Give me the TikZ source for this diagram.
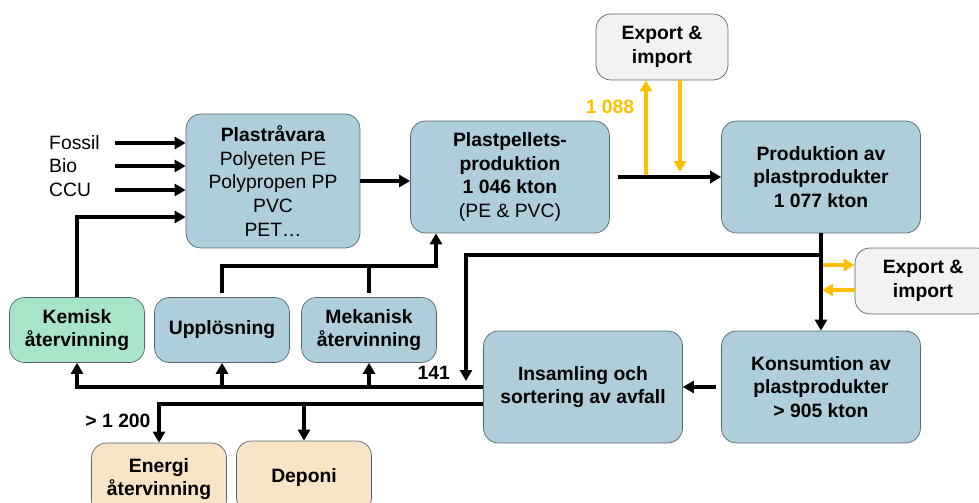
\documentclass[tikz,border=0pt]{standalone}
\usepackage{fontspec}
\setmainfont{Liberation Sans}
\usepackage{xcolor}
\definecolor{boxblue}{RGB}{173,206,218}
\definecolor{boxline}{RGB}{84,102,112}
\definecolor{kemgreen}{RGB}{168,228,200}
\definecolor{endfill}{RGB}{249,228,197}
\definecolor{tradefill}{RGB}{242,242,242}
\definecolor{gold}{RGB}{255,192,0}
\usepackage{tikz}
\usetikzlibrary{arrows.meta, positioning, calc}
\newcommand{\boxfont}{\fontsize{11}{13.6}\selectfont}

\begin{document}
\begin{tikzpicture}[x=0.02cm, y=-0.02cm,
  >={Triangle[length=0.22cm,width=0.24cm]},
  proc/.style={draw=boxline, fill=boxblue, rounded corners=0.3cm, align=center,
    inner sep=0pt, font=\boxfont\bfseries},
  big/.style={minimum width=3.98cm, minimum height=2.24cm},
  small/.style={minimum width=2.7cm, minimum height=1.3cm},
  flow/.style={line width=2.1pt},
  trade/.style={gold, line width=1.9pt}]
\clip (0,0) rectangle (979,503);

% main chain
\node[proc, font=\boxfont, minimum width=3.48cm, minimum height=2.68cm] (rv) at (273,181)
  {\textbf{Plastråvara}\\Polyeten PE\\Polypropen PP\\PVC\\PET…};
\node[proc, big] (pp) at (510,177) {Plastpellets-\\produktion\\1 046 kton\\\mdseries(PE \& PVC)};
\node[proc, big] (prod) at (821,177) {Produktion av\\plastprodukter\\1 077 kton};
\node[proc, big] (kons) at (821,387) {Konsumtion av\\plastprodukter\\> 905 kton};
\node[proc, big] (ins) at (583,387) {Insamling och\\sortering av avfall};

% recycling and end of life
\node[proc, small, fill=kemgreen] (kem) at (77,330) {Kemisk\\återvinning};
\node[proc, small] (upp) at (222,330) {Upplösning};
\node[proc, small] (mek) at (369,330) {Mekanisk\\återvinning};
\node[proc, small, fill=endfill, minimum height=1.44cm] (ener) at (159,479) {Energi\\återvinning};
\node[proc, small, fill=endfill, minimum height=1.44cm] (dep) at (304,477) {Deponi};

% trade
\node[proc, fill=tradefill, minimum width=2.64cm, minimum height=1.32cm] (ex1) at (662,47) {Export \&\\import};
\node[proc, fill=tradefill, minimum width=2.72cm, minimum height=1.32cm] (ex2) at (923,281) {Export \&\\import};

% inputs
\foreach \name/\y in {Fossil/145, Bio/168, CCU/192} {
  \node[anchor=west, font=\boxfont] (\name) at (43,\y-2) {\name};
  \draw[flow,->] (\name.east -| 115,0) -- (\name.east -| rv.west);
}
\draw[flow,->] (kem.north) |- ([yshift=-0.72cm]rv.west);

\draw[flow,->] (rv.east) -- (pp.west |- rv.east);
\draw[flow,->] ([xshift=0.16cm]pp.east) -- (prod.west);

\coordinate (rec) at (436,266);
\draw[flow,->, shorten <=0.08cm] (upp.north) |- (rec) -- (rec |- pp.south);
\draw[flow, shorten <=0.08cm] (mek.north) -- (mek.north |- rec);

% export & import
\coordinate (tup) at (646,175);
\coordinate (tdn) at (680,172);
\draw[trade,->] (tup) -- (tup |- ex1.south);
\draw[trade,->] (tdn |- ex1.south) -- (tdn);
\node[gold, font=\boxfont\bfseries] (v1088) at (610,107) {1 088};

\coordinate (t2o) at (822,265);
\coordinate (t2i) at (822,290);
\draw[trade,->] (t2o) -- (t2o -| ex2.west);
\draw[trade,->] (t2i -| ex2.west) -- (t2i);

% consumption and collection
\draw[flow,->] (prod.south) -- (kons.north);
\coordinate (b141) at (466,381);
\draw[flow,->] ([yshift=-0.44cm]prod.south) -| (b141);
\node[anchor=east, font=\boxfont\bfseries] (l141) at (456,373) {141};
\draw[flow,->] ([xshift=-0.1cm]kons.west) -- (ins.east |- kons.west);

\draw[flow,->] (ins.west) -| (kem.south);
\draw[flow,->] (upp.south |- ins.west) -- (upp.south);
\draw[flow,->] (mek.south |- ins.west) -- (mek.south);

\coordinate (low) at ([yshift=-0.34cm]ins.west);
\draw[flow,->] (low) -| (ener.north);
\draw[flow,->] (dep.north |- low) -- (dep.north);
\node[font=\boxfont\bfseries] (l1200) at (118,421) {> 1 200};
\end{tikzpicture}
\end{document}
